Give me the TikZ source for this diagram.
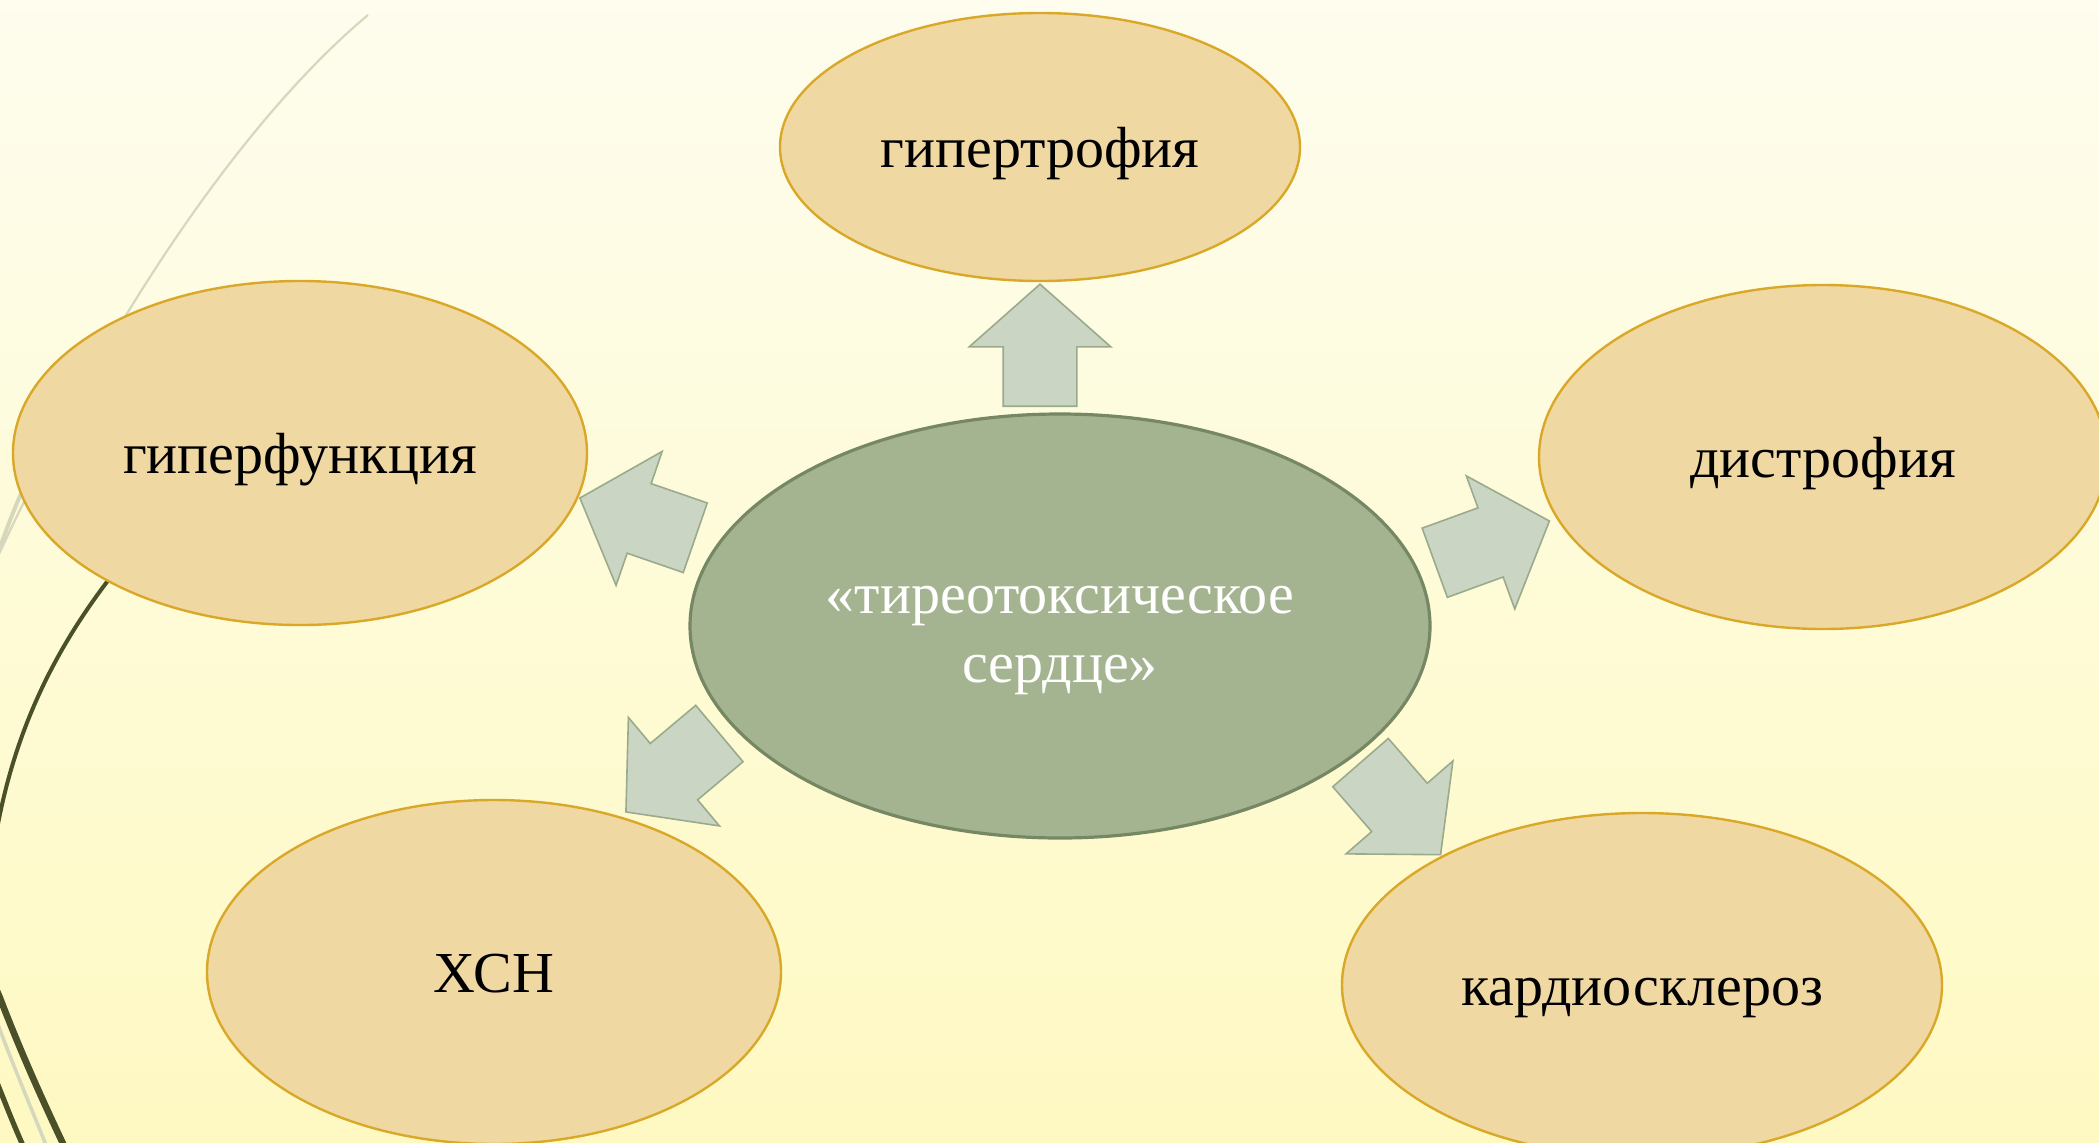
\documentclass[tikz,border=0pt]{standalone}
\usepackage{fontspec}
\setmainfont{Liberation Serif}
\usetikzlibrary{shapes.geometric,shapes.arrows}

\definecolor{bgtop}{RGB}{254,253,238}
\definecolor{bgbot}{RGB}{254,249,194}
\definecolor{bubblefill}{RGB}{240,216,163}
\definecolor{bubbleline}{RGB}{218,168,40}
\definecolor{corefill}{RGB}{165,180,144}
\definecolor{coreline}{RGB}{118,135,100}
\definecolor{arrfill}{RGB}{203,213,195}
\definecolor{arrline}{RGB}{154,170,140}
\definecolor{swoosh}{RGB}{74,80,40}
\definecolor{swooshpale}{RGB}{214,216,190}

\tikzset{
    bubble/.style={ellipse, draw=bubbleline, line width=1.2pt, fill=bubblefill,
        inner sep=0pt, text height=23pt, text depth=3pt,
        font=\fontsize{29}{35}\selectfont},
    core/.style={ellipse, draw=coreline, line width=1.6pt, fill=corefill,
        text=white, align=center, inner sep=0pt,
        minimum width=370pt, minimum height=212pt,
        text height=62pt, text depth=6pt,
        font=\fontsize{29}{34.5}\selectfont},
    fatarrow/.style={single arrow, draw=arrline, line width=0.8pt, fill=arrfill,
        inner xsep=0pt, inner ysep=18pt, minimum height=61pt, minimum width=70pt,
        single arrow head extend=17pt, single arrow tip angle=97, anchor=tail}
}

\begin{document}
\begin{tikzpicture}[x=0.5pt, y=-0.5pt] % one unit = one pixel of the slide

    \useasboundingbox (0,0) rectangle (2099,1142);
    \fill[top color=bgtop, bottom color=bgbot] (0,0) rectangle (2099,1142);

    % swooshes on the left
    \draw[swooshpale, line width=1.1pt] (368,15) .. controls (260,105) and (120,290) .. (-6,565);
    \draw[swooshpale, line width=2pt] (60,410) .. controls (35,460) and (12,510) .. (-6,565);
    \draw[swoosh, line width=2pt] (150,530) .. controls (60,630) and (10,730) .. (-8,860);
    \draw[swooshpale, line width=1.8pt] (-14,990) -- (-3,1022) .. controls (15,1070) and (30,1105) .. (48,1150);
    \draw[swoosh, line width=3.3pt] (-12,970) -- (0,998) .. controls (20,1050) and (40,1095) .. (66,1150);
    \draw[swoosh, line width=2.6pt] (-10,1065) -- (0,1090) .. controls (8,1110) and (15,1128) .. (25,1150);

    % ellipses
    \node[core] (heart) at (1060,626) {«тиреотоксическое\\сердце»};
    \node[bubble, minimum width=260pt, minimum height=134pt] (hyper) at (1040,147) {гипертрофия};
    \node[bubble, minimum width=287pt, minimum height=172pt] (func) at (300,453) {гиперфункция};
    \node[bubble, minimum width=284pt, minimum height=172pt] (dys) at (1823,457) {дистрофия};
    \node[bubble, minimum width=287pt, minimum height=172pt] (chf) at (494,972) {ХСН};
    \node[bubble, minimum width=300pt, minimum height=172pt] (scler) at (1642,985) {кардиосклероз};

    % arrows
    \node[fatarrow, rotate=90] (aup) at (1040,407) {};
    \node[fatarrow, rotate=161] (aleft) at (696,538) {};
    \node[fatarrow, rotate=20] (aright) at (1434,563) {};
    \node[fatarrow, rotate=220] (adownl) at (720,733) {};
    \node[fatarrow, rotate=311] (adownr) at (1360,762) {};

\end{tikzpicture}
\end{document}
